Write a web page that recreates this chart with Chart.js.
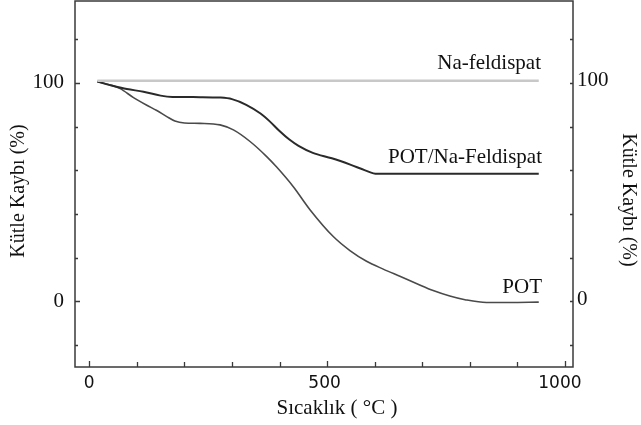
<!DOCTYPE html>
<html>
<head>
<meta charset="utf-8">
<script src="https://cdn.jsdelivr.net/npm/chart.js@4"></script>
<style>
    body { margin: 0; background: #fff; }
    #wrap { width: 641px; height: 425px; position: relative; }
</style>
</head>
<body>
<div id="wrap"><canvas id="tga"></canvas></div>
<script>
// TGA curves (temperature in °C, mass in %)
const naFeldTemp = [17, 945];
const naFeldMass = [101, 101];

const potNaTemp = [17, 51, 79, 114, 150, 175, 233, 275, 300, 330, 360, 380, 400, 420, 440, 470, 510, 550, 580, 605, 945];
const potNaMass = [100.6, 98.6, 97.2, 96, 94.2, 93.6, 93.5, 93.3, 92.6, 90, 86, 82.3, 78, 74.2, 71.2, 68, 65.5, 62.5, 60, 58.4, 58.4];

const potTemp = [17, 44, 65, 93, 121, 142, 163, 180, 200, 233, 275, 303, 338, 373, 394, 429, 464, 513, 548, 583, 618, 653, 690, 723, 758, 790, 835, 884, 945];
const potMass = [100.6, 99.1, 97.4, 93.3, 89.8, 87.4, 84.6, 82.6, 81.7, 81.5, 80.8, 78.5, 73.2, 66.3, 61.5, 52.5, 42, 29.7, 23.3, 18.4, 14.8, 11.5, 8, 5, 2.5, 0.8, -0.5, -0.5, -0.3];

// axis ticks
const xMajor = [0, 500, 1000];
const xMinor = [100, 200, 300, 400, 600, 700, 800, 900];
const yMajor = [0, 100];
const yMinor = [-20, 20, 40, 60, 80, 120];

// labels written next to the curves
const curveLabels = ["Na-feldispat", "POT/Na-Feldispat", "POT"];

function pts(xs, ys) {
    return xs.map((x, i) => ({ x: x, y: ys[i] }));
}

const SERIF = '"Liberation Serif", "Times New Roman", serif';
const SANS = '"DejaVu Sans", Verdana, sans-serif';

// draws the box, inward ticks and all the text
const frame = {
    id: "frame",
    afterDraw(chart) {
        const ctx = chart.ctx;
        const a = chart.chartArea;
        const xs = chart.scales.x;
        const ys = chart.scales.y;
        ctx.save();

        ctx.strokeStyle = "#3a3a3a";
        ctx.lineWidth = 1.5;
        ctx.strokeRect(a.left, a.top, a.right - a.left, a.bottom - a.top);

        ctx.lineWidth = 1.3;
        ctx.beginPath();
        xMajor.forEach(v => {
            const px = Math.round(xs.getPixelForValue(v)) + 0.5;
            ctx.moveTo(px, a.bottom); ctx.lineTo(px, a.bottom - 6);
        });
        xMinor.forEach(v => {
            const px = Math.round(xs.getPixelForValue(v)) + 0.5;
            ctx.moveTo(px, a.bottom); ctx.lineTo(px, a.bottom - 5);
        });
        yMajor.forEach(v => {
            const py = Math.round(ys.getPixelForValue(v)) + 0.5;
            ctx.moveTo(a.left, py); ctx.lineTo(a.left + 5, py);
            ctx.moveTo(a.right, py); ctx.lineTo(a.right - 3, py);
        });
        yMinor.forEach(v => {
            const py = Math.round(ys.getPixelForValue(v)) + 0.5;
            ctx.moveTo(a.left, py); ctx.lineTo(a.left + 3, py);
            ctx.moveTo(a.right, py); ctx.lineTo(a.right - 3, py);
        });
        ctx.stroke();

        ctx.fillStyle = "#111";
        ctx.textBaseline = "middle";

        // x tick labels
        ctx.font = "17px " + SANS;
        ctx.textAlign = "center";
        xMajor.forEach(v => {
            ctx.fillText(String(v), xs.getPixelForValue(v) - v / 200, 384);
        });

        // y tick labels, both sides
        ctx.font = "21px " + SERIF;
        yMajor.forEach(v => {
            const py = ys.getPixelForValue(v);
            ctx.textAlign = "right";
            ctx.fillText(String(v), a.left - 11, py);
            ctx.textAlign = "left";
            ctx.fillText(String(v), a.right + 4, py - 2);
        });

        // x title
        ctx.textAlign = "center";
        ctx.fillText("Sıcaklık ( °C )", 337, 408);

        // curve labels, right aligned at the line ends
        ctx.textAlign = "right";
        ctx.fillText(curveLabels[0], 541, 63);
        ctx.fillText(curveLabels[1], 542, 157);
        ctx.fillText(curveLabels[2], 542, 287);

        // y titles
        ctx.font = "20px " + SERIF;
        ctx.textAlign = "center";
        ctx.save();
        ctx.translate(19, 191);
        ctx.rotate(-Math.PI / 2);
        ctx.fillText("Kütle Kaybı (%)", 0, 0);
        ctx.restore();
        ctx.save();
        ctx.translate(628, 200);
        ctx.rotate(Math.PI / 2);
        ctx.fillText("Kütle Kaybı (%)", 0, 0);
        ctx.restore();

        ctx.restore();
    }
};

new Chart(document.getElementById("tga"), {
    type: "line",
    data: {
        datasets: [
            { label: curveLabels[0], data: pts(naFeldTemp, naFeldMass), borderColor: "#c8c8c8", borderWidth: 2.5 },
            { label: curveLabels[1], data: pts(potNaTemp, potNaMass), borderColor: "#2a2a2a", borderWidth: 2 },
            { label: curveLabels[2], data: pts(potTemp, potMass), borderColor: "#4a4a4a", borderWidth: 1.6 }
        ]
    },
    options: {
        responsive: true,
        maintainAspectRatio: false,
        animation: false,
        layout: { padding: { left: 75, right: 68, top: 1, bottom: 58 } },
        elements: {
            point: { radius: 0 },
            line: { cubicInterpolationMode: "monotone" }
        },
        plugins: { legend: { display: false }, tooltip: { enabled: false } },
        scales: {
            x: { type: "linear", min: -30, max: 1017, display: false },
            y: { type: "linear", min: -30, max: 137.5, display: false }
        }
    },
    plugins: [frame]
});
</script>
</body>
</html>
